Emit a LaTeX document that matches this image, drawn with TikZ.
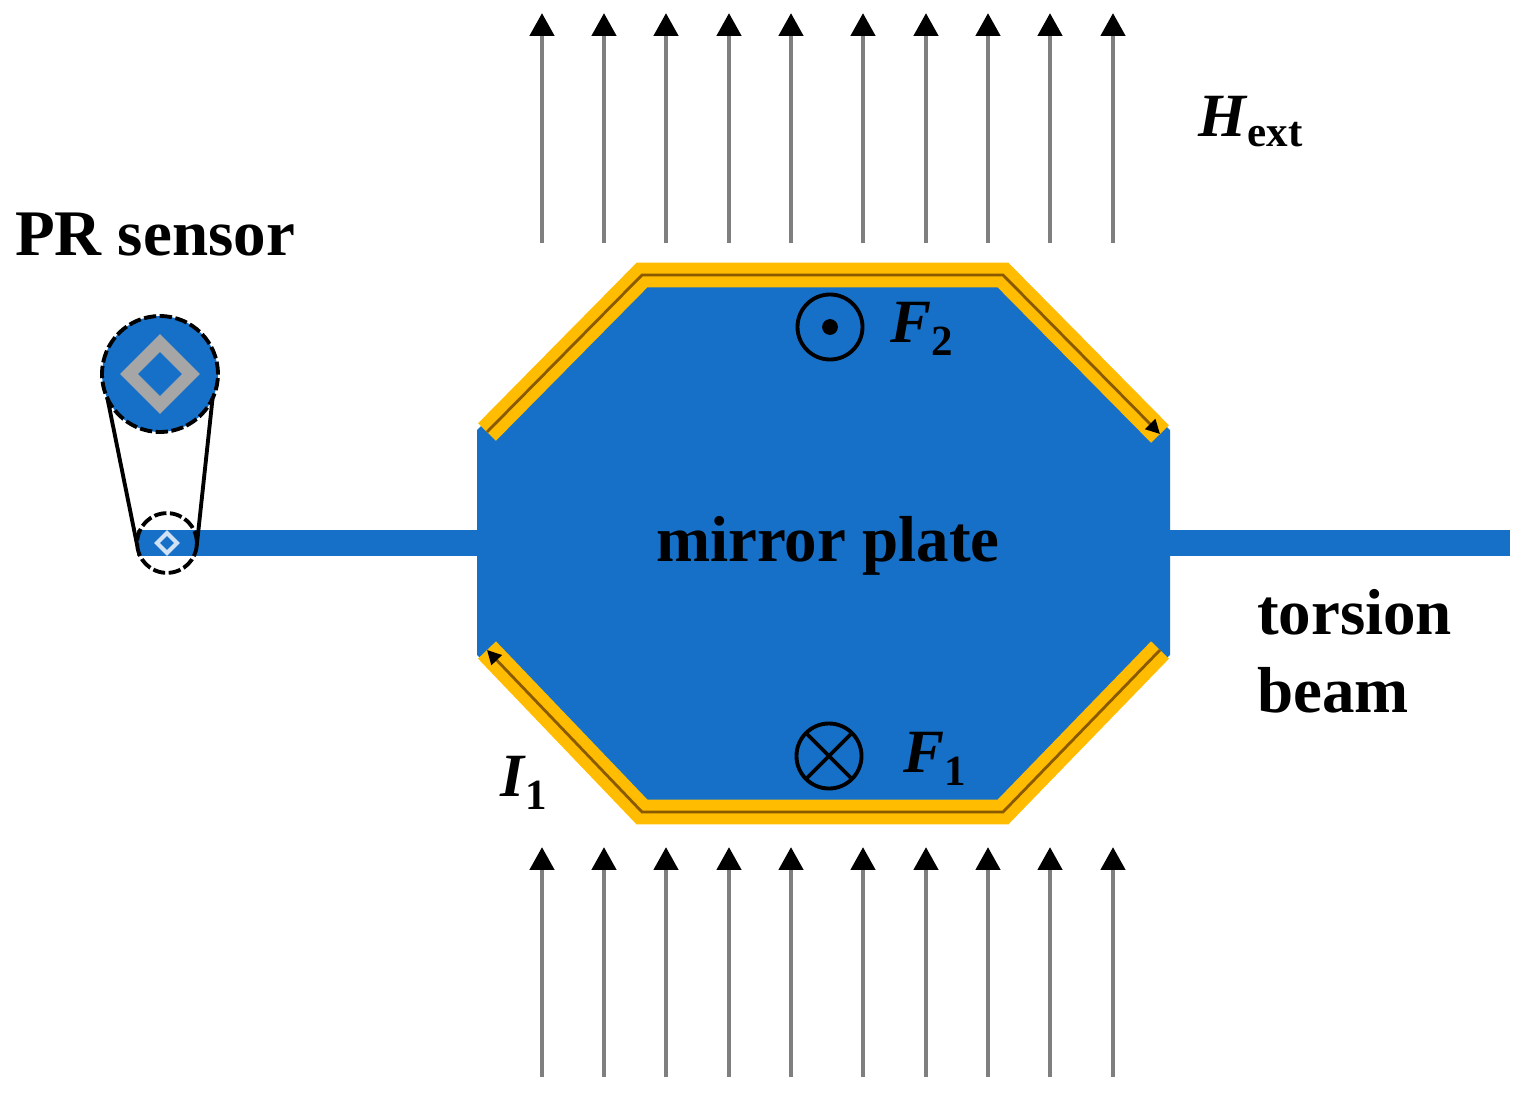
\documentclass[tikz,border=0pt]{standalone}
\usepackage{fontspec}
\setmainfont{Liberation Serif}
\usetikzlibrary{arrows.meta}
\definecolor{plateblue}{HTML}{1770C8}
\definecolor{coilgold}{HTML}{FFBC00}
\definecolor{coilwire}{HTML}{8A5A00}
\definecolor{fieldgray}{HTML}{7F7F7F}
\newcommand{\lowsub}[1]{\textsubscript{\raisebox{-2pt}{\upshape #1}}}
\tikzset{
  lbl/.style={inner sep=0pt,outer sep=0pt,font=\fontsize{37}{44}\selectfont\bfseries},
  symlbl/.style={inner sep=0pt,outer sep=0pt,anchor=west,font=\fontsize{35}{42}\selectfont\bfseries},
  fieldline/.style={draw=fieldgray,line width=2.8pt,-{Triangle[black,length=13pt,width=13.5pt]}},
  coil/.style={draw=coilgold,line width=14.2pt,line join=miter},
  wire/.style={draw=coilwire,line width=1.6pt,-{Triangle[black,length=8pt,width=8pt]}},
  dashcircle/.style={circle,draw=black,line width=2.2pt,dash pattern=on 7pt off 2pt,inner sep=0pt,outer sep=0pt},
  forcecircle/.style={circle,draw=black,line width=2.2pt,minimum size=37pt,inner sep=0pt,outer sep=0pt}
}
\begin{document}
\begin{tikzpicture}[x=0.02cm,y=-0.02cm]
\useasboundingbox (0,0) rectangle (1529,1102);
% torsion beams and plate
\fill[plateblue] (137,530) rectangle (477,556);
\fill[plateblue] (1170,530) rectangle (1510,556);
\fill[plateblue] (477,430) -- (640,275) -- (1005,275) -- (1170,430) -- (1170,655) -- (1005,812) -- (640,812) -- (477,655) -- cycle;
% coil
\draw[coil] (487,432) -- (642,275) -- (1003,275) -- (1160,434);
\draw[coil] (1160,650) -- (1003,812) -- (642,812) -- (487,650);
\draw[wire] (487,432) -- (642,275) -- (1003,275) -- (1160,434);
\draw[wire] (1160,650) -- (1003,812) -- (642,812) -- (487,650);
% field lines
\foreach \x in {542,604,666,729,791,863,926,988,1050,1113}{
  \coordinate (tb\x) at (\x,243);
  \coordinate (tt\x) at (\x,13);
  \coordinate (bb\x) at (\x,1077);
  \coordinate (bt\x) at (\x,847);
  \draw[fieldline] (tb\x) -- (tt\x);
  \draw[fieldline] (bb\x) -- (bt\x);
}
% PR sensor
\node[dashcircle,fill=plateblue,minimum size=66pt] (sensor) at (160,374) {};
\draw[draw=black!35,line width=7.2pt,line join=miter] (160,343) -- (191,374) -- (160,405) -- (129,374) -- cycle;
\node[dashcircle,minimum size=34pt] (pivot) at (167,543) {};
\draw[draw=white!80!plateblue,line width=2.4pt] (167,533) -- (177,543) -- (167,553) -- (157,543) -- cycle;
\draw[line width=2.2pt] (sensor.205) -- (pivot.185);
\draw[line width=2.2pt] (sensor.-25) -- (pivot.-5);
% force symbols
\node[forcecircle] (forcetwo) at (830,327) {};
\fill (forcetwo.center) circle (4.5pt);
\node[forcecircle] (forceone) at (829,756) {};
\draw[line width=2.2pt] (forceone.45) -- (forceone.225);
\draw[line width=2.2pt] (forceone.135) -- (forceone.-45);
% labels
\node[lbl] (sensorlabel) at (155,235) {PR sensor};
\node[lbl] (platelabel) at (828,546) {mirror plate};
\node[lbl,anchor=west] (torsionlabel) at (1257,612) {torsion};
\node[lbl,anchor=west] (beamlabel) at (1257,690) {beam};
\node[symlbl] (hextlabel) at (1198,122) {\textit{H}\lowsub{ext}};
\node[symlbl] (ftwolabel) at (890,329) {\textit{F}\lowsub{2}};
\node[symlbl] (fonelabel) at (903,759) {\textit{F}\lowsub{1}};
\node[symlbl] (ionelabel) at (500,783) {\textit{I}\lowsub{1}};
\end{tikzpicture}
\end{document}
